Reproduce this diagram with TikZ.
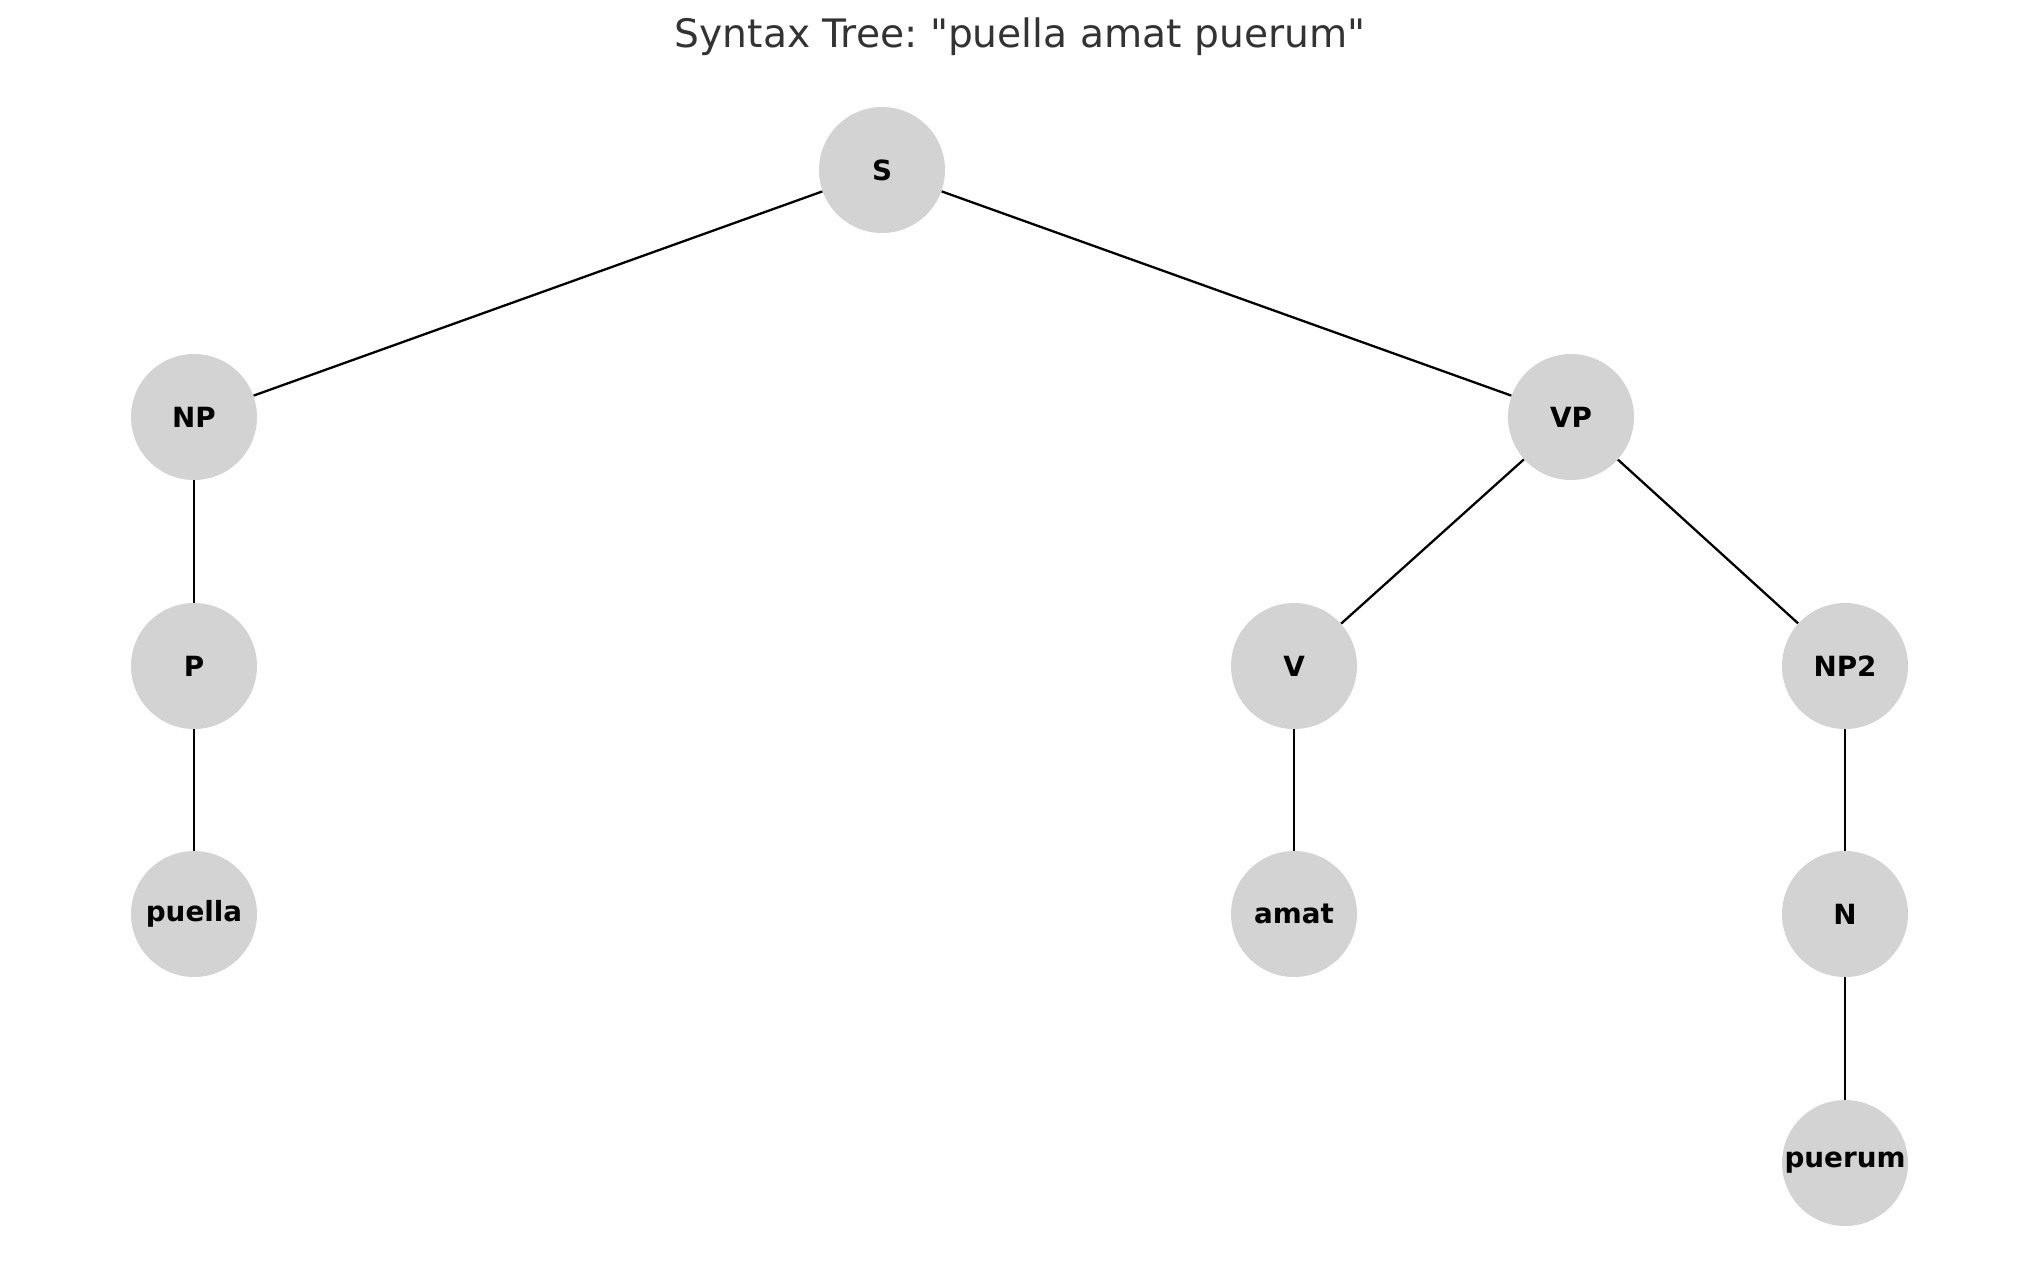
\documentclass[tikz,border=0pt]{standalone}
\usepackage{fontspec}
\usepackage{xcolor}
\setmainfont{DejaVu Sans}
\newfontfamily\titlefont{DejaVu Sans}
\usetikzlibrary{positioning}
\definecolor{nodeGray}{RGB}{211, 211, 211}
\definecolor{titleGray}{RGB}{51, 51, 51}
\frenchspacing

\begin{document}
\begin{tikzpicture}[x=0.5pt, y=-0.5pt,
    treenode/.style={circle, fill=nodeGray, minimum size=63pt, inner sep=0pt,
        font=\fontsize{13.9}{13.9}\selectfont\bfseries},
    edge/.style={draw=black, line width=1.15pt}]
                \useasboundingbox (0,0) rectangle (2039,1286);

                % Title
                \node[text=titleGray, font=\titlefont\fontsize{19.6}{19.6}\selectfont] (title) at (1020,37) {Syntax Tree: "puella amat puerum"};

                % Nodes
                \node[treenode] (S) at (882,170) {S};
                \node[treenode] (NP) at (194,417) {NP};
                \node[treenode] (VP) at (1571,417) {VP};
                \node[treenode] (P) at (194,666) {P};
                \node[treenode] (V) at (1294,666) {V};
                \node[treenode] (NP2) at (1845,666) {NP2};
                \node[treenode] (puella) at (194,914) {puella};
                \node[treenode] (amat) at (1294,914) {amat};
                \node[treenode] (N) at (1845,914) {N};
                \node[treenode] (puerum) at (1845,1163) {puerum};

                % Edges
                \draw[edge] (S) -- (NP);
                \draw[edge] (S) -- (VP);
                \draw[edge] (NP) -- (P);
                \draw[edge] (P) -- (puella);
                \draw[edge] (VP) -- (V);
                \draw[edge] (VP) -- (NP2);
                \draw[edge] (V) -- (amat);
                \draw[edge] (NP2) -- (N);
                \draw[edge] (N) -- (puerum);
            \end{tikzpicture}
\end{document}
